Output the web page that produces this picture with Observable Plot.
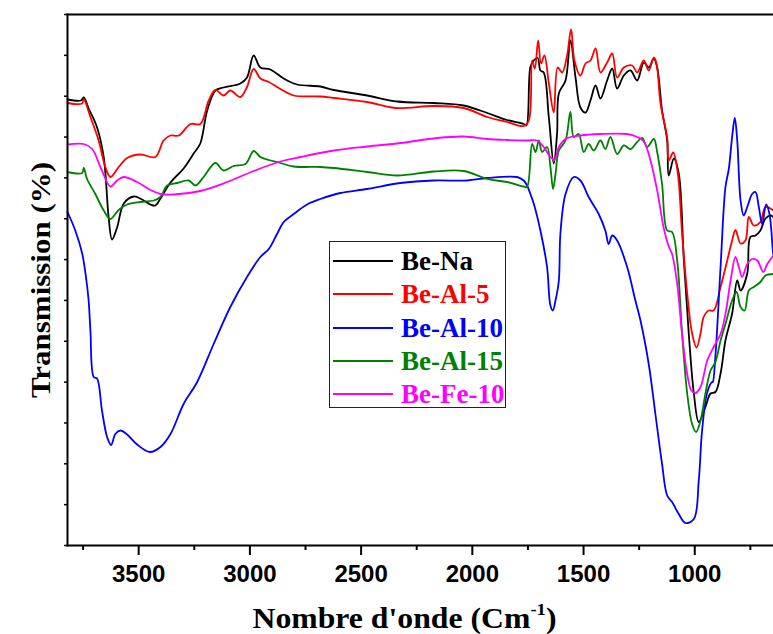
<!DOCTYPE html>
<html>
<head>
<meta charset="utf-8">
<script src="https://cdn.jsdelivr.net/npm/d3@7"></script>
<script src="https://cdn.jsdelivr.net/npm/@observablehq/plot@0.6"></script>
<style>
  body { margin: 0; background: #fff; }
  #wrap { position: relative; width: 773px; height: 634px; overflow: hidden; }
  #wrap svg { display: block; }
  g[aria-label="x-axis tick label"] { font: bold 24px "Liberation Sans", Arial, sans-serif; }
  g[aria-label="x-axis label"] { font: bold 29px "Liberation Serif", "Times New Roman", serif; fill: #000; }
  g[aria-label="y-axis label"] { font: bold 27px "Liberation Serif", "Times New Roman", serif; fill: #000; }
  #legend { position: absolute; left: 329px; top: 241px; width: 177px; height: 167px; border: 1px solid #222; background: #fff; box-sizing: border-box; }
  .lg-line { position: absolute; left: 3px; width: 60px; height: 2px; }
  .lg-text { position: absolute; left: 71px; height: 30px; line-height: 30px; font: bold 27px "Liberation Serif", "Times New Roman", serif; white-space: nowrap; }
</style>
</head>
<body>
<div id="wrap"></div>
<script>
// ---- Data (wavenumber cm-1, transmission in arbitrary % units) ----
const seriesNames = ["Be-Na", "Be-Al-5", "Be-Al-10", "Be-Al-15", "Be-Fe-10"];
const seriesColors = ["#000000", "#ff0000", "#0000ff", "#008000", "#ff00ff"];
const xMajorTicks = [3500, 3000, 2500, 2000, 1500, 1000];
const xMinorTicks = [3750, 3250, 2750, 2250, 1750, 1250, 750];
const xAxisTitle = "Nombre d'onde (Cm";
const xAxisTitleSup = "-1";
const yAxisTitle = "Transmission (%)";

const beNa = [[3820,89.2],[3760,89.0],[3747,89.6],[3725,87.4],[3687,83.6],[3657,77.6],[3635,65.6],[3620,61.2],[3597,63.6],[3567,68.4],[3522,69.8],[3485,69.2],[3447,68.2],[3425,68.0],[3402,69.4],[3357,72.6],[3298,75.4],[3253,78.4],[3223,80.4],[3192,87.0],[3155,91.0],[3118,91.6],[3043,92.4],[3013,93.6],[2983,98.0],[2953,95.6],[2908,95.2],[2848,93.4],[2788,92.2],[2683,91.8],[2623,91.1],[2473,90.0],[2338,88.8],[2174,88.5],[2039,88.0],[1933,86.5],[1844,85.1],[1769,84.3],[1757,84.0],[1739,95.7],[1724,97.0],[1706,97.5],[1694,95.0],[1679,94.6],[1656,85.6],[1634,76.4],[1619,82.4],[1611,90.4],[1581,93.0],[1559,101.0],[1536,93.6],[1514,87.6],[1491,86.6],[1469,89.0],[1446,92.0],[1424,89.4],[1394,93.0],[1371,95.4],[1349,91.4],[1319,94.0],[1289,95.0],[1259,93.0],[1229,96.6],[1207,95.6],[1184,97.4],[1169,95.6],[1147,87.0],[1124,81.0],[1117,74.0],[1094,77.4],[1072,74.4],[1049,57.0],[1027,42.4],[1004,30.4],[982,24.7],[952,27.7],[929,30.4],[907,30.7],[884,34.4],[862,41.0],[832,46.4],[809,53.0],[794,51.0],[764,54.4],[750,61.7],[727,62.0],[705,63.0],[682,65.4],[660,66.0],[646,65.7]];

const beAl5 = [[3820,88.5],[3754,88.4],[3747,89.3],[3717,85.7],[3680,81.0],[3650,75.7],[3627,73.7],[3590,75.7],[3552,77.5],[3492,78.2],[3425,77.7],[3388,81.0],[3357,82.0],[3320,82.0],[3267,84.3],[3223,84.3],[3185,89.0],[3155,91.1],[3118,90.0],[3088,91.0],[3043,89.7],[3013,91.7],[2983,95.3],[2953,93.4],[2915,92.7],[2863,91.3],[2803,90.0],[2683,89.8],[2623,89.5],[2473,88.7],[2346,87.5],[2174,87.9],[2039,87.5],[1933,85.7],[1844,84.7],[1769,83.9],[1746,85.0],[1731,97.0],[1719,95.4],[1704,101.0],[1691,96.4],[1676,98.0],[1656,92.4],[1634,86.6],[1616,95.6],[1596,94.6],[1574,98.0],[1556,103.2],[1541,97.0],[1514,94.0],[1491,96.4],[1469,97.0],[1446,99.4],[1424,94.6],[1394,96.6],[1371,98.4],[1349,93.6],[1319,95.6],[1281,96.0],[1259,94.6],[1229,97.0],[1207,95.0],[1184,97.6],[1172,96.4],[1154,88.4],[1124,81.6],[1117,77.0],[1097,78.6],[1076,74.4],[1057,62.4],[1034,50.4],[1012,42.4],[992,39.6],[974,42.4],[960,45.7],[937,47.0],[915,47.0],[884,51.7],[854,57.0],[832,61.0],[817,63.1],[794,60.4],[772,61.0],[757,65.7],[735,64.0],[705,64.7],[682,67.7],[646,67.0]];

const beAl10 = [[3820,66.7],[3785,63.0],[3754,58.4],[3735,53.0],[3725,49.0],[3717,43.0],[3702,33.7],[3687,33.4],[3665,27.0],[3642,21.7],[3624,20.1],[3605,22.3],[3582,23.0],[3552,22.2],[3507,20.2],[3450,18.7],[3402,19.7],[3357,22.3],[3298,28.3],[3237,32.7],[3163,40.3],[3088,47.7],[3013,53.7],[2953,57.7],[2915,59.3],[2878,62.3],[2848,64.7],[2803,66.3],[2743,68.2],[2683,69.3],[2593,70.5],[2473,71.3],[2323,72.5],[2174,73.0],[2023,73.0],[1933,73.5],[1799,73.7],[1769,73.0],[1754,72.0],[1739,70.3],[1724,68.4],[1694,63.0],[1664,55.7],[1649,48.0],[1638,47.0],[1626,49.0],[1611,53.0],[1604,62.4],[1581,70.3],[1544,73.7],[1514,73.0],[1477,69.7],[1432,66.3],[1402,63.0],[1387,60.3],[1371,62.0],[1349,61.0],[1304,55.7],[1267,49.0],[1244,45.0],[1207,36.3],[1177,26.3],[1147,16.3],[1124,10.0],[1102,8.7],[1072,6.3],[1042,4.5],[1004,5.3],[982,13.0],[967,23.0],[944,30.6],[922,32.7],[919,32.7],[907,38.0],[884,55.7],[862,71.7],[847,75.3],[832,81.7],[820,85.5],[809,81.0],[794,69.0],[780,66.0],[764,67.7],[742,70.3],[727,70.7],[712,67.7],[697,64.3],[679,68.2],[664,66.3],[649,59.0],[646,58.0]];

const beAl15 = [[3820,74.7],[3754,74.5],[3747,75.5],[3732,73.3],[3695,70.3],[3657,67.0],[3627,65.3],[3590,67.1],[3552,68.2],[3492,68.7],[3432,69.0],[3402,69.7],[3372,72.0],[3327,72.5],[3275,73.0],[3245,72.0],[3208,73.7],[3155,76.5],[3118,75.0],[3073,75.9],[3020,76.3],[2983,78.9],[2953,77.7],[2915,77.1],[2863,76.5],[2803,75.8],[2683,75.7],[2623,75.5],[2473,74.7],[2338,74.0],[2174,74.8],[2039,74.9],[1933,73.3],[1844,72.7],[1769,71.8],[1754,71.7],[1731,80.3],[1716,78.7],[1701,81.0],[1686,78.7],[1664,79.7],[1649,75.7],[1637,71.3],[1626,74.3],[1611,79.0],[1581,81.0],[1559,86.7],[1544,81.7],[1522,82.3],[1499,78.7],[1477,80.3],[1454,79.0],[1424,81.0],[1402,79.3],[1379,81.7],[1349,78.3],[1319,80.0],[1289,79.3],[1259,80.7],[1236,81.5],[1214,79.7],[1184,81.3],[1169,78.7],[1147,72.3],[1124,63.0],[1102,62.7],[1079,57.0],[1057,42.4],[1034,30.4],[1012,24.3],[994,22.7],[974,25.0],[952,30.4],[929,35.0],[907,36.7],[884,41.0],[862,44.3],[832,49.0],[812,50.7],[794,47.7],[776,47.0],[757,51.0],[735,51.7],[705,52.7],[682,54.0],[646,54.3]];

const beFe10 = [[3820,80.2],[3747,80.3],[3709,79.3],[3672,75.7],[3627,71.8],[3597,73.0],[3567,73.7],[3507,72.7],[3447,71.1],[3402,70.3],[3343,70.2],[3223,70.9],[3102,72.7],[2983,74.9],[2863,76.8],[2773,77.7],[2623,79.0],[2473,79.8],[2323,80.5],[2158,81.5],[2039,81.8],[1933,81.3],[1844,81.1],[1754,81.0],[1709,81.0],[1679,79.7],[1649,77.7],[1631,77.1],[1611,79.7],[1581,81.3],[1514,82.0],[1424,82.3],[1304,82.3],[1259,81.7],[1229,80.8],[1199,77.0],[1169,71.0],[1139,63.4],[1117,59.8],[1102,58.3],[1079,52.3],[1057,42.3],[1034,34.3],[1015,31.0],[997,30.5],[974,31.7],[944,37.0],[915,39.7],[884,42.3],[862,46.3],[839,53.0],[817,57.7],[802,55.7],[787,53.7],[764,56.3],[742,57.3],[719,57.0],[692,54.7],[674,56.3],[646,58.0]];

const seriesData = [beNa, beAl5, beAl10, beAl15, beFe10];

// ---- Build table ----
const rows = seriesData.flatMap((arr, i) =>
  arr.map(([x, y]) => ({x, y, name: seriesNames[i]}))
);

const yMax = 106.2;
const yTicks = d3.range(0, 14).map(i => i * yMax / 13);

const plot = Plot.plot({
  width: 773,
  height: 634,
  marginTop: 14,
  marginBottom: 89,
  marginLeft: 67,
  marginRight: 0,
  style: {background: "#fff", fontFamily: "Liberation Sans, Arial, sans-serif", color: "#000"},
  x: {domain: [3820, 646]},
  y: {domain: [0, yMax]},
  color: {domain: seriesNames, range: seriesColors},
  marks: [
    Plot.line(rows, {x: "x", y: "y", z: "name", stroke: "name", strokeWidth: 1.8, curve: "catmull-rom"}),
    Plot.axisX(xMajorTicks, {tickSize: 10, tickPadding: 9, tickFormat: d => String(d), strokeWidth: 2,
      label: xAxisTitle, labelAnchor: "center", labelOffset: 82, labelArrow: "none"}),
    Plot.axisX(xMinorTicks, {tickSize: 5, tickFormat: () => "", strokeWidth: 2, label: null}),
    Plot.axisY(yTicks, {tickSize: 3, tickFormat: () => "", strokeWidth: 1.5,
      label: yAxisTitle, labelAnchor: "center", labelOffset: 37, labelArrow: "none"}),
    Plot.frame({anchor: "top", strokeWidth: 2}),
    Plot.frame({anchor: "left", strokeWidth: 2}),
    Plot.frame({anchor: "bottom", strokeWidth: 2})
  ]
});

const wrap = document.getElementById("wrap");
wrap.appendChild(plot);

// superscript in x-axis title and horizontal centring as in the reference
const xl = plot.querySelector('g[aria-label="x-axis label"]');
if (xl) {
  const t = xl.querySelector("text");
  if (t) {
    const ns = "http://www.w3.org/2000/svg";
    t.textContent = "";
    const a = document.createElementNS(ns, "tspan"); a.textContent = xAxisTitle; t.appendChild(a);
    const b = document.createElementNS(ns, "tspan"); b.textContent = xAxisTitleSup;
    b.setAttribute("dy", "-13"); b.setAttribute("font-size", "17"); t.appendChild(b);
    const c = document.createElementNS(ns, "tspan"); c.textContent = ")";
    c.setAttribute("dy", "13"); t.appendChild(c);
    t.setAttribute("textLength", "304");
    t.setAttribute("lengthAdjust", "spacingAndGlyphs");
  }
  const tr = xl.getAttribute("transform") || "";
  xl.setAttribute("transform", tr + " translate(-16,0)");
}
const yl = plot.querySelector('g[aria-label="y-axis label"] text');
if (yl) {
  yl.setAttribute("textLength", "236");
  yl.setAttribute("lengthAdjust", "spacingAndGlyphs");
}

// legend
const legend = document.createElement("div");
legend.id = "legend";
seriesNames.forEach((name, i) => {
  const cy = 19 + i * 33.3;
  const ln = document.createElement("div");
  ln.className = "lg-line";
  ln.style.top = (cy - 1) + "px";
  ln.style.background = seriesColors[i];
  legend.appendChild(ln);
  const tx = document.createElement("div");
  tx.className = "lg-text";
  tx.style.top = (cy - 15) + "px";
  tx.style.color = seriesColors[i];
  tx.textContent = name;
  legend.appendChild(tx);
});
wrap.appendChild(legend);
</script>
</body>
</html>
